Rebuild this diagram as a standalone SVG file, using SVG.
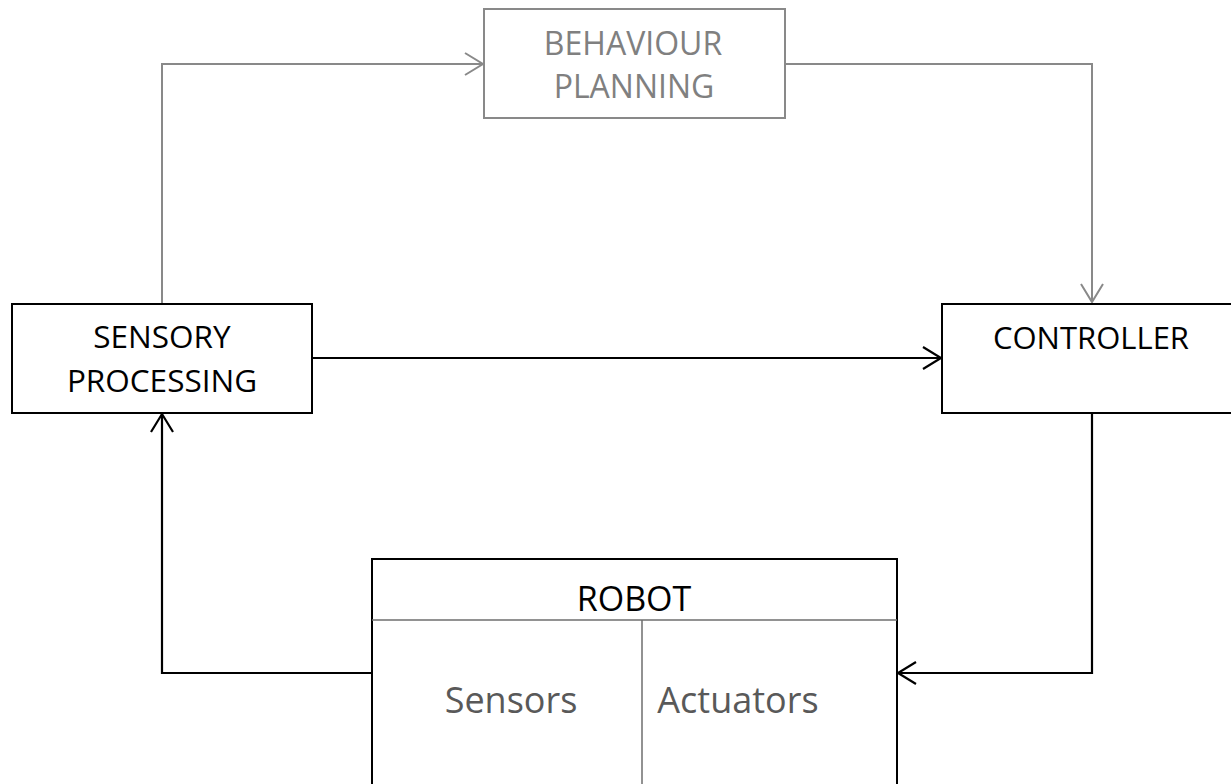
<svg xmlns="http://www.w3.org/2000/svg" width="1231" height="784" viewBox="0 0 1231 784">
<style>
text{font-family:"Open Sans","Liberation Sans",sans-serif;text-anchor:middle}
.box{fill:#fff;stroke:#000;stroke-width:2}
.gbox{fill:#fff;stroke:#898989;stroke-width:2}
.t{fill:#000}
.gt{fill:#808080}
.st{fill:#595959}
.c{fill:none;stroke:#000;stroke-width:2.2}
.gc{fill:none;stroke:#898989;stroke-width:2}
.div{stroke:#6e6e6e;stroke-width:1.5}
</style>
<rect width="1231" height="784" fill="#fff"/>
<g id="connectors">
<path class="gc" d="M162 303 V64 H483"/>
<path class="gc" d="M465 53 L483 64 L465 75"/>
<path class="gc" d="M785 64 H1092 V302"/>
<path class="gc" d="M1081 284 L1092 302 L1103 284"/>
<path class="c" d="M312 358 H941"/>
<path class="c" d="M923 347 L941 358 L923 369"/>
<path class="c" d="M1092 413 V673 H898"/>
<path class="c" d="M916 662 L898 673 L916 684"/>
<path class="c" d="M371 673 H162 V414"/>
<path class="c" d="M151 432 L162 414 L173 432"/>
</g>
<g id="behaviour">
<rect class="gbox" x="484" y="9" width="301" height="109"/>
<text class="gt" x="633" y="55" font-size="32">BEHAVIOUR</text>
<text class="gt" x="634" y="98" font-size="32">PLANNING</text>
</g>
<g id="sensory">
<rect class="box" x="12" y="304" width="300" height="109"/>
<text class="t" x="162" y="348" font-size="31.5">SENSORY</text>
<text class="t" x="162" y="392" font-size="31.5">PROCESSING</text>
</g>
<g id="controller">
<rect class="box" x="942" y="304" width="300" height="109"/>
<text class="t" x="1091" y="349" font-size="31">CONTROLLER</text>
</g>
<g id="robot">
<rect class="box" x="372" y="559" width="525" height="240"/>
<line class="div" x1="372" y1="620" x2="897" y2="620"/>
<line class="div" x1="642" y1="620" x2="642" y2="790"/>
<text class="t" x="634" y="611" font-size="34">ROBOT</text>
<text class="st" x="511" y="713" font-size="36">Sensors</text>
<text class="st" x="738" y="713" font-size="36">Actuators</text>
</g>
</svg>
